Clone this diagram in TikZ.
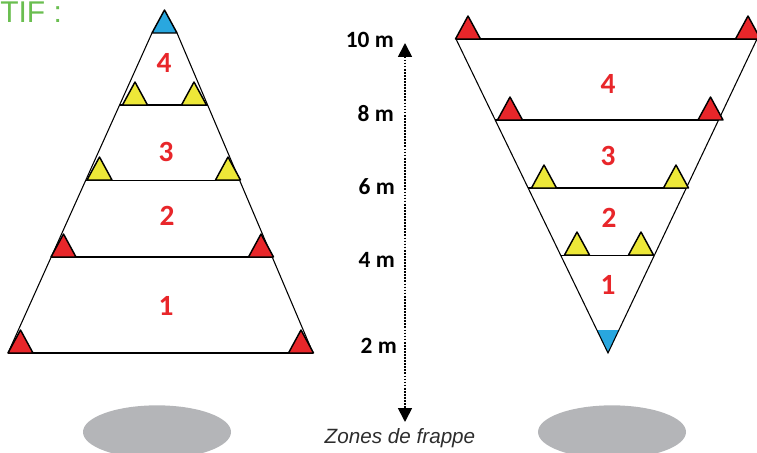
\documentclass[tikz,border=0pt]{standalone}
\usepackage{fontspec}
\setmainfont{Carlito}
\newfontfamily\helv{Liberation Sans}
\usetikzlibrary{arrows.meta,calc}
\definecolor{conered}{RGB}{232,38,42}
\definecolor{coneyellow}{RGB}{237,232,56}
\definecolor{coneblue}{RGB}{41,167,223}
\definecolor{tifgreen}{RGB}{106,190,80}
\definecolor{zonegrey}{RGB}{180,181,184}
\definecolor{captiongrey}{RGB}{45,45,45}
\tikzset{
  cone/.pic={\filldraw[pic actions] (-12.5,0) -- (0,-23) -- (12.5,0) -- cycle;},
  red cone/.style={fill=conered,draw=black,line width=1.1pt,line join=round},
  yellow cone/.style={fill=coneyellow,draw=black,line width=1.1pt,line join=round},
  rope/.style={line width=0.8pt},
  zonenum/.style={inner sep=0pt,text=conered,font=\bfseries\fontsize{22}{22}\selectfont},
  dist/.style={anchor=east,inner sep=0pt,font=\bfseries\fontsize{17.5}{17.5}\selectfont},
}
\begin{document}
\begin{tikzpicture}[x=0.75pt,y=-0.75pt]
\useasboundingbox (0,0) rectangle (757,453);
\node[anchor=base west,inner sep=0pt,text=tifgreen,font=\helv\fontsize{22.5}{22.5}\selectfont] (tif) at (0,23) {TIF :};
% pyramide
\coordinate (la) at (8,353);
\coordinate (lb) at (313,353);
\coordinate (lt1) at (152,33);
\coordinate (lt2) at (177,33);
\draw[rope] (la) -- (lt1);
\draw[rope] (lb) -- (lt2);
\draw[rope] (la) -- (lb);
\foreach \t in {0.3,0.54,0.775}
  \draw[rope] ($(la)!\t!(lt1)$) -- ($(lb)!\t!(lt2)$);
\pic[red cone] at (20.5,353) {cone};
\pic[red cone] at (301,353) {cone};
\pic[red cone] at (63.5,257) {cone};
\pic[red cone] at (261,257) {cone};
\pic[yellow cone] at (99.5,180) {cone};
\pic[yellow cone] at (228,180) {cone};
\pic[yellow cone] at (135,105) {cone};
\pic[yellow cone] at (194,105) {cone};
\pic[fill=coneblue,draw=black,line width=1.1pt,line join=round] at (164.5,33) {cone};
\node[zonenum] (l4) at (164,63) {4};
\node[zonenum] (l3) at (166,152) {3};
\node[zonenum] (l2) at (167,216) {2};
\node[zonenum] (l1) at (166,306) {1};
% entonnoir
\coordinate (ra) at (456,39);
\coordinate (rb) at (757,39);
\coordinate (rv) at (608,353);
\fill[coneblue] ($(ra)!0.927!(rv)$) -- ($(rb)!0.927!(rv)$) -- (rv) -- cycle;
\draw[rope] (ra) -- (rv) -- (rb);
\draw[rope] (ra) -- (rb);
\foreach \t in {0.258,0.4745,0.688}
  \draw[rope] ($(ra)!\t!(rv)$) -- ($(rb)!\t!(rv)$);
\pic[red cone] at (468,39) {cone};
\pic[red cone] at (748,39) {cone};
\pic[red cone] at (510,120) {cone};
\pic[red cone] at (710.5,120) {cone};
\pic[yellow cone] at (544,188) {cone};
\pic[yellow cone] at (676,188) {cone};
\pic[yellow cone] at (577,255) {cone};
\pic[yellow cone] at (641,255) {cone};
\node[zonenum] (r4) at (608,84) {4};
\node[zonenum] (r3) at (608,156) {3};
\node[zonenum] (r2) at (609,218) {2};
\node[zonenum] (r1) at (608,285) {1};
% distances
\coordinate (top) at (405,43);
\coordinate (bot) at (405,422);
\draw[line width=1.3pt,densely dotted,{Triangle[width=10.5pt,length=10.5pt]}-{Triangle[width=10.5pt,length=10.5pt]}] (top) -- (bot);
\node[dist] (d10) at (394,40) {10 m};
\node[dist] (d8) at (394,114) {8 m};
\node[dist] (d6) at (395,187) {6 m};
\node[dist] (d4) at (395,260) {4 m};
\node[dist] (d2) at (397,346) {2 m};
% zones de frappe
\fill[zonegrey] (157,432) ellipse [x radius=55.5pt,y radius=20pt];
\fill[zonegrey] (612,432) ellipse [x radius=55.5pt,y radius=20pt];
\node[text=captiongrey,font=\helv\itshape\fontsize{15.5}{15.5}\selectfont] (frappe) at (400,438) {Zones de frappe};
\end{tikzpicture}
\end{document}
